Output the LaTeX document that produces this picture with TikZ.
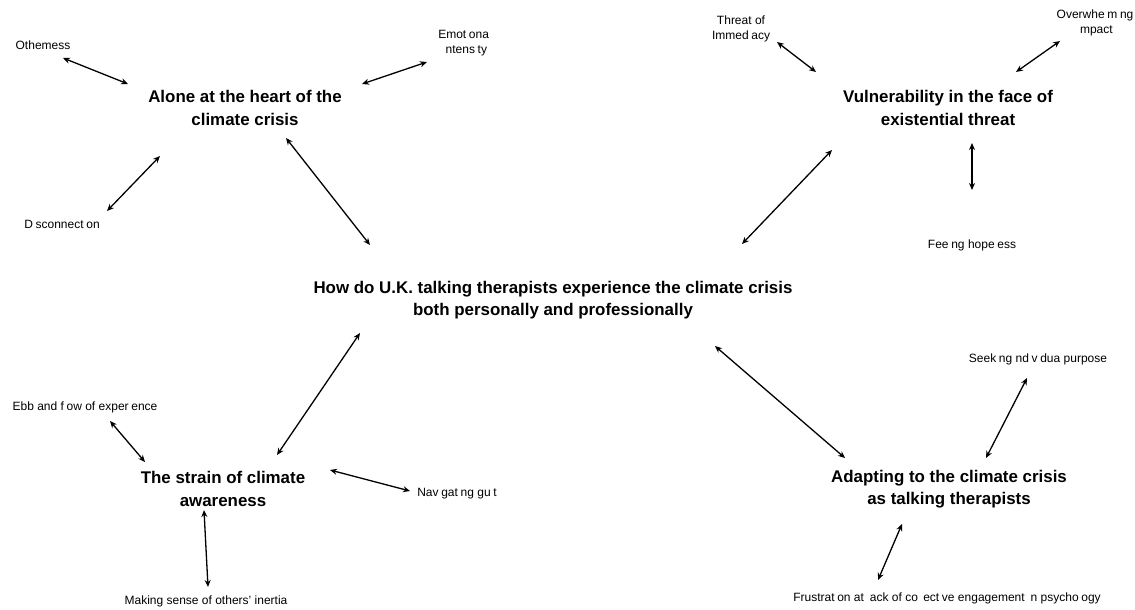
\documentclass[tikz,border=0pt]{standalone}
\usepackage{fontspec}
\setmainfont{Liberation Sans}
\usetikzlibrary{arrows.meta}
\newcommand{\gap}[1]{\phantom{#1}}
\begin{document}
\begin{tikzpicture}[x=1pt,y=-1pt,
  theme/.style={font=\fontsize{16.9}{22.5}\selectfont\bfseries, align=center, inner sep=0pt},
  sub/.style={font=\fontsize{12}{15.5}\selectfont, align=center, inner sep=0pt},
  link/.style={line width=1.3pt, {Stealth[length=7pt,width=6pt]}-{Stealth[length=7pt,width=6pt]}}]
\useasboundingbox (0,0) rectangle (1135,610);
% nodes
\node[theme] (central) at (553,300) {How do U.K. talking therapists experience the climate crisis\\both personally and professionally};
\node[theme] (alone) at (245,108) {Alone at the heart of the\\climate crisis};
\node[theme] (vuln) at (948,108) {Vulnerability in the face of\\existential threat};
\node[theme] (strain) at (223,489) {The strain of climate\\awareness};
\node[theme] (adapt) at (949,489) {Adapting to the climate crisis\\as talking therapists};
\node[sub] (oth) at (43,45) {Othemess};
\node[sub] (emo) at (465,43) {Emot\gap{i}ona\gap{l}\\\gap{i}ntens\gap{i}ty};
\node[sub] (dis) at (62,224) {D\gap{i}sconnect\gap{i}on};
\node[sub] (thr) at (741,29) {Threat of\\Immed\gap{i}acy};
\node[sub] (ovr) at (1095,23) {Overwhe\gap{i}m\gap{i}ng\\\gap{i}mpact};
\node[sub] (fee) at (972,245) {Fee\gap{i}ng hope\gap{i}ess};
\node[sub] (ebb) at (85,407) {Ebb and f\gap{l}ow of exper\gap{i}ence};
\node[sub] (nav) at (457,493) {Nav\gap{i}gat\gap{i}ng gu\gap{i}t};
\node[sub] (mak) at (206,601) {Making sense of others' inertia};
\node[sub] (see) at (1038,359) {Seek\gap{i}ng nd\gap{i}v\gap{i}dua purpose};
\node[sub] (fru) at (947,598) {Frustrat\gap{i}on at \gap{l}ack of co\gap{ll}ect\gap{i}ve engagement \gap{i}n psycho\gap{l}ogy};
% connector end points
\coordinate (othA) at (63,58);   \coordinate (othB) at (128,84);
\coordinate (emoA) at (427,62);  \coordinate (emoB) at (362,84);
\coordinate (disA) at (107,211); \coordinate (disB) at (160,156);
\coordinate (alA) at (286,138);  \coordinate (alB) at (370,245);
\coordinate (thrA) at (777,42);  \coordinate (thrB) at (816,72);
\coordinate (ovrA) at (1060,41); \coordinate (ovrB) at (1016,72);
\coordinate (feeA) at (972,190); \coordinate (feeB) at (972,143);
\coordinate (vuA) at (832,150);  \coordinate (vuB) at (742,244);
\coordinate (stA) at (277,455);  \coordinate (stB) at (360,333);
\coordinate (ebbA) at (110,421); \coordinate (ebbB) at (145,462);
\coordinate (navA) at (410,491); \coordinate (navB) at (330,470);
\coordinate (makA) at (208,587); \coordinate (makB) at (204,510);
\coordinate (adA) at (845,458);  \coordinate (adB) at (715,346);
\coordinate (seeA) at (1027,378);\coordinate (seeB) at (986,458);
\coordinate (fruA) at (878,580); \coordinate (fruB) at (902,524);
% connectors
\draw[link] (othA) -- (othB);
\draw[link] (emoA) -- (emoB);
\draw[link] (disA) -- (disB);
\draw[link] (alA) -- (alB);
\draw[link] (thrA) -- (thrB);
\draw[link] (ovrA) -- (ovrB);
\draw[link] (feeA) -- (feeB);
\draw[link] (vuA) -- (vuB);
\draw[link] (stA) -- (stB);
\draw[link] (ebbA) -- (ebbB);
\draw[link] (navA) -- (navB);
\draw[link] (makA) -- (makB);
\draw[link] (adA) -- (adB);
\draw[link] (seeA) -- (seeB);
\draw[link] (fruA) -- (fruB);
\end{tikzpicture}
\end{document}
